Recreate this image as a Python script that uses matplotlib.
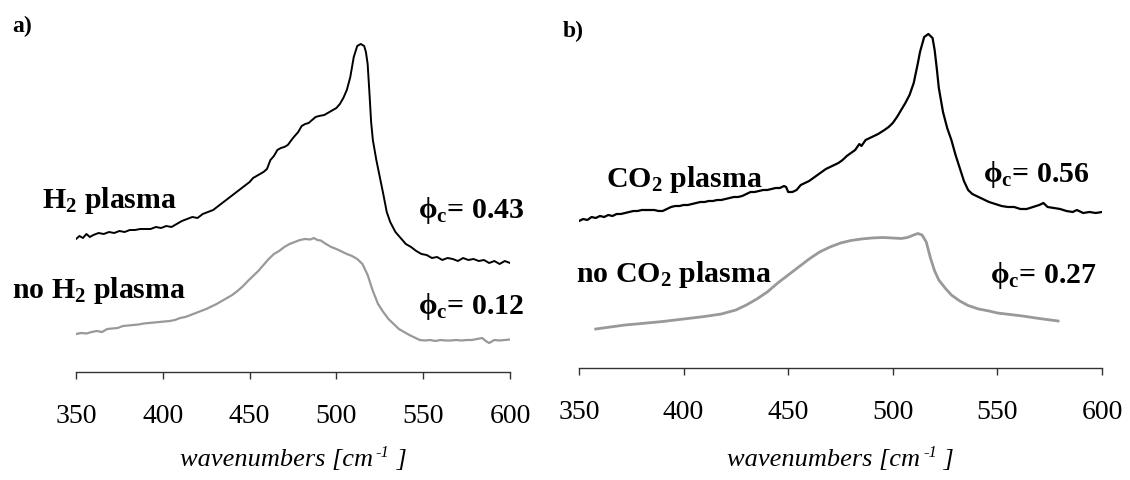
import matplotlib
matplotlib.use("Agg")
import matplotlib.pyplot as plt

plt.rcParams["font.family"] = ["Liberation Serif", "DejaVu Serif"]
plt.rcParams["mathtext.default"] = "regular"

# ---- panel a: H2 plasma treatment -------------------------------------
wn_h2 = [350, 352, 354, 356, 358, 360, 363, 366, 369, 372, 375, 378, 381, 384, 387,
         390, 393, 396, 399, 402, 405, 408, 411, 414, 417, 420, 423, 426, 429, 432,
         435, 438, 441, 444, 447, 450, 452, 455, 458, 460, 462, 464, 466, 468, 470,
         472, 475, 478, 480, 482, 484, 486, 488, 490, 493, 496, 498, 500, 502, 504,
         506, 508, 510, 512, 514, 516, 517, 518, 519, 520, 521, 523, 525, 527, 529,
         531, 534, 537, 540, 543, 546, 549, 552, 555, 558, 561, 564, 567, 570, 573,
         576, 579, 582, 585, 588, 591, 594, 597, 600]
int_h2 = [133, 136, 134, 138, 135, 137, 139, 138, 140, 139, 141, 140, 142, 142, 143,
          143, 143, 145, 144, 146, 145, 148, 151, 153, 155, 154, 158, 160, 162, 166,
          170, 174, 178, 182, 186, 190, 194, 197, 200, 203, 212, 216, 222, 224, 225,
          227, 234, 240, 246, 248, 249, 252, 255, 256, 257, 260, 262, 264, 268, 274,
          282, 295, 315, 326, 328, 326, 320, 308, 280, 250, 232, 212, 195, 178, 160,
          150, 140, 134, 128, 125, 121, 118, 117, 114, 115, 112, 114, 113, 111, 114,
          112, 113, 111, 112, 109, 111, 108, 111, 109]

wn_noh2 = [350, 353, 356, 359, 362, 365, 368, 371, 374, 377, 380, 383, 386, 389, 392,
           395, 398, 401, 404, 407, 410, 413, 416, 419, 422, 425, 428, 431, 434, 437,
           440, 443, 446, 449, 452, 455, 458, 461, 464, 467, 470, 473, 476, 479, 482,
           485, 487, 489, 491, 494, 497, 500, 503, 506, 509, 512, 515, 518, 521, 524,
           527, 530, 533, 536, 539, 542, 545, 548, 551, 554, 557, 560, 563, 566, 569,
           572, 575, 578, 581, 584, 586, 588, 591, 594, 597, 600]
int_noh2 = [38, 39, 38.5, 40, 41, 40, 43, 43.5, 44, 46, 46.5, 47, 47.5, 48.5, 49,
            49.5, 50, 50.5, 51, 52, 54, 55, 57, 59, 61, 63, 65.5, 68, 71, 74,
            77, 81, 85.5, 91, 96, 101, 107, 113, 118, 121, 125, 128, 130, 132, 133,
            132.5, 134, 132, 131.5, 128, 125, 123, 120.5, 118, 116, 113, 108, 97, 81, 68,
            60, 53, 48, 43, 40, 37, 34.5, 32, 31.5, 32, 31, 32, 31.5, 31.5, 32,
            31.5, 32, 32, 33, 34, 31, 29, 32, 31.5, 32, 32.5]

# ---- panel b: CO2 plasma treatment ------------------------------------
wn_co2 = [350, 352, 354, 356, 358, 360, 362, 364, 366, 368, 370, 372, 374, 376, 378,
          380, 382, 384, 386, 388, 390, 392, 394, 396, 398, 400, 402, 404, 406, 408,
          410, 412, 414, 416, 418, 420, 422, 424, 426, 428, 430, 432, 434, 436, 438,
          440, 442, 444, 446, 448, 449, 450, 452, 454, 456, 458, 460, 462, 464, 466,
          468, 470, 472, 474, 476, 478, 480, 482, 484, 485, 487, 490, 493, 496, 498,
          500, 502, 504, 506, 508, 510, 512, 513, 515, 517, 519, 520, 521, 522, 524,
          526, 528, 530, 532, 534, 536, 538, 540, 543, 546, 549, 552, 555, 558, 561,
          564, 567, 570, 572, 574, 577, 580, 583, 586, 588, 591, 594, 597, 600]
int_co2 = [147, 149, 148, 151, 150, 152, 151, 153, 152, 154, 154, 155, 156, 157, 157,
           158, 158, 158, 158, 157, 157, 159, 161, 162, 162, 163, 163, 164, 165, 166,
           166, 167, 167, 168, 168, 169, 170, 171, 171, 172, 174, 176, 176, 177, 178,
           178, 179, 180, 180, 182, 181, 176, 176, 178, 183, 185, 187, 190, 193, 196,
           199, 201, 203, 205, 208, 212, 215, 218, 224, 222, 228, 231, 234, 238, 241,
           245, 251, 258, 265, 273, 285, 305, 316, 331, 334, 330, 318, 300, 280, 256,
           240, 228, 213, 200, 187, 178, 174, 172, 169, 166, 164, 162, 161, 161, 159,
           159, 161, 163, 165, 161, 160, 159, 157, 156, 158, 155, 156, 155, 156]

wn_noco2 = [358, 365, 372, 380, 390, 400, 410, 418, 425, 430, 435, 440, 445, 450, 455,
            460, 465, 470, 475, 480, 485, 490, 495, 500, 504, 507, 510, 512, 514, 516,
            518, 520, 522, 525, 528, 532, 536, 541, 546, 550, 556, 562, 570, 579]
int_noco2 = [39, 41, 43, 44.5, 46.5, 49, 51.5, 54, 58, 63, 69, 76, 85, 93, 101,
             109, 116, 121, 125, 127.5, 129, 130, 130.5, 130, 129.5, 130.5, 133, 134.5, 133, 126,
             110, 97, 88, 80, 73, 67, 62.5, 59, 57, 55, 53.5, 52, 49.5, 47]

ticks = [350, 400, 450, 500, 550, 600]
black = "#000000"
grey = "#999999"

W, H = 1130, 481
fig = plt.figure(figsize=(W / 100, H / 100), dpi=100)


def fx(px):
    return px / W


def fy(py):
    return 1 - py / H


def make_axes(left, right, base):
    ax = fig.add_axes([fx(left), fy(base), fx(right - left), base / H])
    ax.set_xlim(350, 600)
    ax.set_ylim(0, base)
    for side in ("left", "right", "top"):
        ax.spines[side].set_visible(False)
    ax.spines["bottom"].set_color("#333333")
    ax.spines["bottom"].set_linewidth(1.0)
    ax.set_yticks([])
    ax.set_xticks(ticks)
    ax.set_xticklabels([str(t) for t in ticks])
    ax.tick_params(axis="x", direction="out", length=5, width=1.0, color="#333333",
                   pad=17, labelsize=20)
    ax.patch.set_alpha(0)
    return ax


ax_a = make_axes(76, 510, 373)
ax_a.plot(wn_h2, int_h2, color=black, lw=1.4, solid_joinstyle="round")
ax_a.plot(wn_noh2, int_noh2, color=grey, lw=1.6, solid_joinstyle="round")

ax_b = make_axes(579, 1102, 369)
ax_b.plot(wn_co2, int_co2, color=black, lw=1.6, solid_joinstyle="round")
ax_b.plot(wn_noco2, int_noco2, color=grey, lw=2.0, solid_joinstyle="round")

lab = dict(fontsize=21.5, fontweight="bold", va="baseline", ha="left")
fig.text(fx(12), fy(32), "a)", fontsize=17, fontweight="bold", va="baseline")
fig.text(fx(563), fy(37), "b)", fontsize=17, fontweight="bold", va="baseline")

fig.text(fx(42), fy(208), "H$_2$ plasma", **lab)
fig.text(fx(418), fy(218), "\u03d5$_c$= 0.43", **lab)
fig.text(fx(12), fy(298), "no H$_2$ plasma", **lab)
fig.text(fx(418), fy(314), "\u03d5$_c$= 0.12", **lab)

fig.text(fx(606), fy(187), "CO$_2$ plasma", **lab)
fig.text(fx(983), fy(182), "\u03d5$_c$= 0.56", **lab)
fig.text(fx(576), fy(282), "no CO$_2$ plasma", **lab)
fig.text(fx(990), fy(283), "\u03d5$_c$= 0.27", **lab)

# x-axis caption: italic text with a raised italic "-1"
renderer = fig.canvas.get_renderer()


def caption(center_px, base_px):
    pieces = [("wavenumbers [cm", 19, 0), ("-1", 12, 9), (" ]", 19, 0)]
    arts = []
    for txt, size, rise in pieces:
        t = fig.text(0, fy(base_px + 0) + rise / H, txt, fontsize=size,
                     fontstyle="italic", ha="left", va="baseline")
        arts.append(t)
    widths = [a.get_window_extent(renderer).width for a in arts]
    gap = 3
    total = sum(widths) + gap
    x = center_px - total / 2
    for i, a in enumerate(arts):
        a.set_x(fx(x))
        x += widths[i] + (gap if i == 0 else 0)


caption((76 + 510) / 2, 466)
caption((579 + 1102) / 2, 466)

fig.savefig("out.png", dpi=100, facecolor="white")
